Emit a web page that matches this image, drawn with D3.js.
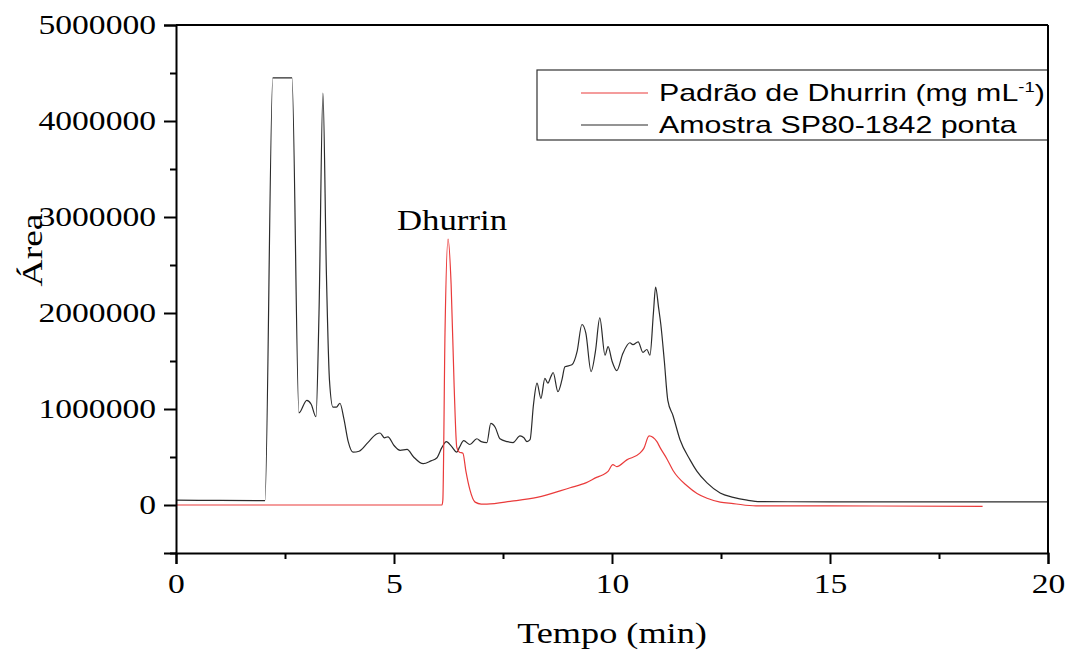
<!DOCTYPE html>
<html>
<head>
<meta charset="utf-8">
<script src="https://d3js.org/d3.v7.min.js"></script>
<style>
  body { margin: 0; background: #fff; }
  svg { display: block; }
</style>
</head>
<body>
<script>
// Amostra SP80-1842 ponta (black trace)
const sampleTime = [0, 1.0, 2.04, 2.22, 2.66, 2.82, 3.0, 3.1, 3.21, 3.28, 3.37, 3.45, 3.52, 3.6, 3.68, 3.76, 3.85, 3.95, 4.06,
  4.2, 4.4, 4.6, 4.68, 4.78, 4.86, 5.0, 5.14, 5.3, 5.45, 5.67, 5.85, 5.98, 6.1, 6.2, 6.32, 6.44, 6.5, 6.6, 6.74, 6.9,
  7.0, 7.13, 7.22, 7.32, 7.43, 7.6, 7.73, 7.89, 7.98, 8.05, 8.12, 8.2, 8.28, 8.37, 8.46, 8.53, 8.6, 8.65, 8.76, 8.85,
  8.92, 9.08, 9.2, 9.31, 9.4, 9.52, 9.62, 9.72, 9.84, 9.91, 10.0, 10.11, 10.25, 10.41, 10.48, 10.6, 10.71, 10.8, 10.87,
  10.95, 11.0, 11.07, 11.12, 11.2, 11.28, 11.4, 11.56, 11.79, 11.95, 12.18, 12.48, 12.78, 13.1, 13.4, 15, 20];
const sampleArea = [50000, 48000, 45000, 4450000, 4450000, 960000, 1090000, 1050000, 920000, 2000000, 4290000, 2400000,
  1300000, 1020000, 1020000, 1060000, 900000, 660000, 550000,
  560000, 650000, 740000, 750000, 700000, 710000, 620000, 570000, 580000, 500000, 430000, 460000, 490000, 600000, 660000,
  610000, 550000, 600000, 670000, 630000, 690000,
  660000, 650000, 850000, 810000, 690000, 660000, 650000, 720000, 700000, 660000, 680000, 1050000, 1270000, 1110000,
  1320000, 1270000, 1340000, 1380000, 1180000, 1300000,
  1440000, 1460000, 1600000, 1880000, 1790000, 1390000, 1600000, 1950000, 1560000, 1650000, 1500000, 1400000, 1580000,
  1690000, 1670000, 1700000, 1590000, 1620000, 1560000,
  2000000, 2270000, 2050000, 1880000, 1500000, 1090000, 930000, 680000, 470000, 350000, 230000, 125000, 80000, 50000,
  35000, 33000, 33000];

// Padrão de Dhurrin (red trace)
const standardTime = [0, 3.0, 6.1, 6.12, 6.17, 6.24, 6.31, 6.38, 6.44, 6.5, 6.58, 6.65, 6.74, 6.86, 7.0, 7.13, 7.7, 8.28,
  9.04, 9.4, 9.66, 9.77, 9.91, 10.02, 10.11, 10.34, 10.64, 10.73, 10.85, 11.03, 11.1, 11.26, 11.4, 11.72, 11.95, 12.18,
  12.48, 12.78, 13.3, 15, 18.5];
const standardArea = [0, 0, 0, 50000, 1800000, 2770000, 2300000, 1230000, 600000, 550000, 540000, 350000, 160000, 30000,
  10000, 10000, 40000, 80000,
  180000, 230000, 290000, 310000, 350000, 420000, 400000, 470000, 540000, 590000, 720000, 660000, 600000, 480000, 360000,
  200000, 120000, 70000,
  30000, 15000, -10000, -10000, -15000];

const xTicks = [0, 5, 10, 15, 20];
const xMinorTicks = [2.5, 7.5, 12.5, 17.5];
const yTicks = [0, 1000000, 2000000, 3000000, 4000000, 5000000];
const yMinorTicks = [-500000, 500000, 1500000, 2500000, 3500000, 4500000];

const W = 1072, H = 655;
const mLeft = 176, mTop = 25, mRight = 1048, mBottom = 553;

const svg = d3.select("body").append("svg")
  .attr("width", W)
  .attr("height", H);

const x = d3.scaleLinear().domain([0, 20]).range([mLeft, mRight]);
const y = d3.scaleLinear().domain([-500000, 5000000]).range([mBottom, mTop]);

// stretch text horizontally around its anchor point
function widen(sel, k) {
  sel.each(function () {
    const t = d3.select(this);
    const ax = +t.attr("x") || 0;
    t.attr("transform", `translate(${ax},0) scale(${k},1) translate(${-ax},0)`);
  });
}

const serif = "'Liberation Serif', 'Times New Roman', serif";

// curves
const line = d3.line()
  .x(d => x(d[0]))
  .y(d => y(d[1]))
  .curve(d3.curveMonotoneX);

svg.append("clipPath").attr("id", "clip")
  .append("rect").attr("x", mLeft).attr("y", mTop).attr("width", mRight - mLeft).attr("height", mBottom - mTop);

const plot = svg.append("g").attr("clip-path", "url(#clip)");

plot.append("path")
  .datum(sampleTime.map((t, i) => [t, sampleArea[i]]))
  .attr("fill", "none")
  .attr("stroke", "#2b2b2b")
  .attr("stroke-width", 1.2)
  .attr("d", line);

plot.append("path")
  .datum(standardTime.map((t, i) => [t, standardArea[i]]))
  .attr("fill", "none")
  .attr("stroke", "#ea3b3b")
  .attr("stroke-width", 1.2)
  .attr("d", line);

// frame
svg.append("line").attr("x1", mLeft).attr("x2", mRight).attr("y1", mTop).attr("y2", mTop)
  .attr("stroke", "#000").attr("stroke-width", 2);

// y axis
const yAxis = svg.append("g")
  .attr("transform", `translate(${mLeft},0)`)
  .call(d3.axisLeft(y).tickValues(yTicks).tickSize(12).tickPadding(8).tickFormat(d3.format("d")));
svg.append("g")
  .attr("transform", `translate(${mLeft},0)`)
  .call(d3.axisLeft(y).tickValues(yMinorTicks).tickSize(6).tickFormat(""))
  .call(g => g.select(".domain").remove());

// x axis
const xAxis = svg.append("g")
  .attr("transform", `translate(0,${mBottom})`)
  .call(d3.axisBottom(x).tickValues(xTicks).tickSize(11).tickPadding(9));
svg.append("g")
  .attr("transform", `translate(0,${mBottom})`)
  .call(d3.axisBottom(x).tickValues(xMinorTicks).tickSize(6).tickFormat(""))
  .call(g => g.select(".domain").remove());

svg.selectAll(".domain").attr("stroke-width", 2).attr("stroke", "#000");
svg.selectAll(".tick line").attr("stroke-width", 2).attr("stroke", "#000");
svg.selectAll(".tick text")
  .attr("fill", "#000")
  .style("font-family", serif)
  .style("font-size", "28px");
widen(yAxis.selectAll(".tick text"), 1.2);
widen(xAxis.selectAll(".tick text"), 1.2);

// axis titles
svg.append("text")
  .attr("x", 612).attr("y", 643)
  .attr("text-anchor", "middle")
  .style("font-family", serif)
  .style("font-size", "29px")
  .text("Tempo (min)")
  .call(widen, 1.25);

svg.append("text")
  .attr("transform", "translate(42,250) rotate(-90) scale(1.25,1)")
  .attr("text-anchor", "middle")
  .style("font-family", serif)
  .style("font-size", "30px")
  .text("Área");

// peak annotation
svg.append("text")
  .attr("x", 452).attr("y", 230)
  .attr("text-anchor", "middle")
  .style("font-family", serif)
  .style("font-size", "29px")
  .text("Dhurrin")
  .call(widen, 1.2);

// legend
const legend = svg.append("g");
legend.append("rect")
  .attr("x", 537).attr("y", 70).attr("width", mRight - 537).attr("height", 70)
  .attr("fill", "#fff").attr("stroke", "#333").attr("stroke-width", 1.2);

const legendItems = [
  { color: "#ea3b3b", y: 93 },
  { color: "#2b2b2b", y: 125 }
];
legend.selectAll("line.key")
  .data(legendItems)
  .join("line")
  .attr("class", "key")
  .attr("x1", 581).attr("x2", 648)
  .attr("y1", d => d.y).attr("y2", d => d.y)
  .attr("stroke", d => d.color)
  .attr("stroke-width", 1.2);

const sans = "'Liberation Sans', Arial, sans-serif";
const t1 = legend.append("text")
  .attr("transform", "translate(659,101) scale(1.32,1)")
  .style("font-family", sans)
  .style("font-size", "23px");
t1.append("tspan").text("Padrão de Dhurrin (mg mL");
t1.append("tspan").attr("dy", -9).style("font-size", "14px").text("-1");
t1.append("tspan").attr("dy", 9).text(")");

legend.append("text")
  .attr("transform", "translate(659,133) scale(1.32,1)")
  .style("font-family", sans)
  .style("font-size", "23px")
  .text("Amostra SP80-1842 ponta");

// right frame edge, drawn over the legend
svg.append("line").attr("x1", mRight).attr("x2", mRight).attr("y1", mTop).attr("y2", mBottom)
  .attr("stroke", "#000").attr("stroke-width", 2);
</script>
</body>
</html>
